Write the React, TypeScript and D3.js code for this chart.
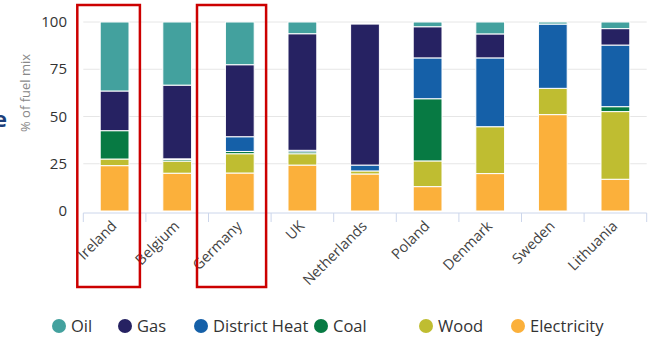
import React from "react";
import * as d3 from "d3";

const countries = ["Ireland", "Belgium", "Germany", "UK", "Netherlands", "Poland", "Denmark", "Sweden", "Lithuania"];
const electricity = [24.0, 20.0, 20.1, 24.3, 19.6, 12.9, 19.8, 51.0, 16.8];
const wood = [3.5, 6.4, 10.2, 6.0, 1.6, 13.6, 24.8, 13.9, 35.8];
const coal = [15.0, 0.8, 1.2, 1.0, 0.0, 32.9, 0.0, 0.0, 2.6];
const districtHeat = [0.0, 0.4, 7.8, 0.8, 3.1, 21.6, 36.4, 34.0, 32.6];
const gas = [21.0, 39.0, 38.1, 61.7, 74.6, 16.5, 12.7, 0.0, 8.7];
const oil = [36.5, 33.4, 22.6, 6.2, 0.0, 2.5, 6.3, 1.1, 3.5];

const seriesNames = ["Electricity", "Wood", "Coal", "District Heat", "Gas", "Oil"];
const seriesValues = [electricity, wood, coal, districtHeat, gas, oil];
const seriesColors = ["#fbb03b", "#bfbd31", "#077a43", "#1560a8", "#262262", "#43a19e"];
const legendOrder = ["Oil", "Gas", "District Heat", "Coal", "Wood", "Electricity"];
const yTicks = [0, 25, 50, 75, 100];
const highlighted = ["Ireland", "Germany"];

const FONT = "'Open Sans', sans-serif";

export default function App() {
  const W = 652, H = 339;
  const left = 83.3, right = 646.7, top = 22, bottom = 211;
  const x = d3.scaleBand<string>().domain(countries).range([left, right]).paddingInner(0.54).paddingOuter(0.27);
  const slot = d3.scaleBand<string>().domain(countries).range([left, right]).padding(0);
  const y = d3.scaleLinear().domain([0, 100]).range([bottom, top]);

  const table = countries.map((c, i) => {
    const row: any = { country: c };
    seriesNames.forEach((s, j) => (row[s] = seriesValues[j][i]));
    return row;
  });
  const stacked = d3.stack<any>().keys(seriesNames)(table);
  const colorOf = (n: string) => seriesColors[seriesNames.indexOf(n)];

  const legendX = [59, 125, 201, 321, 426, 518];
  const boxPad = [[-6, -6], [-11.5, -5]];

  return (
    <svg width={W} height={H} style={{ position: "absolute", left: 0, top: 0, fontFamily: FONT }}>
      <rect width={W} height={H} fill="#fff" />
      <text x={-6} y={127} fontSize={22} fontWeight={700} fill="#1d3f7a">e</text>
      {yTicks.map((t) => (
        <g key={t}>
          {t > 0 && <line x1={left} x2={right} y1={y(t)} y2={y(t)} stroke="#e6e6e6" strokeWidth={1} />}
          <text x={67} y={y(t) + 5} textAnchor="end" fontSize={15} fill="#333">{t}</text>
        </g>
      ))}
      <text transform={`translate(30,93) rotate(-90)`} textAnchor="middle" fontSize={13} fill="#888">% of fuel mix</text>
      {stacked.map((layer) => (
        <g key={layer.key} fill={colorOf(layer.key)}>
          {layer.map((d, i) => {
            const h = y(d[0]) - y(d[1]);
            if (h <= 0) return null;
            return (
              <rect key={i} x={x(countries[i])} y={y(d[1])} width={x.bandwidth()} height={h} stroke="#fff" strokeWidth={1} />
            );
          })}
        </g>
      ))}
      <line x1={left} x2={right} y1={213} y2={213} stroke="#ccd6eb" strokeWidth={1} />
      {countries.map((c) => (
        <line key={c} x1={slot(c)!} x2={slot(c)!} y1={213} y2={222} stroke="#ccd6eb" strokeWidth={1} />
      ))}
      <line x1={right} x2={right} y1={213} y2={222} stroke="#ccd6eb" strokeWidth={1} />
      {countries.map((c) => {
        const cx = slot(c)! + slot.bandwidth() / 2 + 3;
        return (
          <text key={c} transform={`translate(${cx},227) rotate(-45)`} textAnchor="end" fontSize={14.5} fill="#444">{c}</text>
        );
      })}
      {highlighted.map((c, i) => {
        const x0 = slot(c)! + boxPad[i][0];
        const x1 = slot(c)! + slot.bandwidth() + boxPad[i][1];
        return (
          <rect key={c} x={x0} y={5} width={x1 - x0} height={282} fill="none" stroke="#cc0000" strokeWidth={2.5} />
        );
      })}
      {legendOrder.map((n, i) => (
        <g key={n} transform={`translate(${legendX[i]},326)`}>
          <circle r={7} fill={colorOf(n)} />
          <text x={12} y={6} fontSize={16.5} fill="#333">{n}</text>
        </g>
      ))}
    </svg>
  );
}
